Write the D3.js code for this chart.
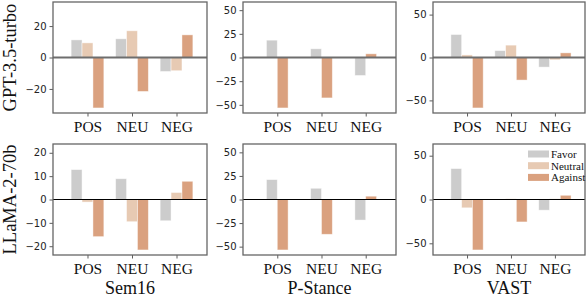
<!DOCTYPE html>
<html><head><meta charset="utf-8">
<script src="https://cdn.jsdelivr.net/npm/d3@7"></script>
<style>body{margin:0;background:#fff}svg{display:block}
.serif{font-family:"Liberation Serif","Times New Roman","DejaVu Serif",serif}
.sans{font-family:"DejaVu Sans",sans-serif}</style>
</head><body>
<script>
// ---- data ----
const categories = ["POS", "NEU", "NEG"];
const seriesNames = ["Favor", "Neutral", "Against"];
const datasets = ["Sem16", "P-Stance", "VAST"];
const models = ["GPT-3.5-turbo", "LLaMA-2-70b"];

// GPT-3.5-turbo
const gptSem16Favor   = [11.2, 11.9, -8.9];
const gptSem16Neutral = [9.3, 17.0, -8.4];
const gptSem16Against = [-32.1, -21.6, 14.4];
const gptPStanceFavor   = [18.3, 9.2, -19.0];
const gptPStanceAgainst = [-53.3, -42.7, 3.9];
const gptVastFavor   = [26.8, 8.0, -11.2];
const gptVastNeutral = [3.0, 14.4, -2.7];
const gptVastAgainst = [-58.8, -26.3, 5.4];
// LLaMA-2-70b
const llamaSem16Favor   = [12.8, 8.9, -9.1];
const llamaSem16Neutral = [-1.1, -9.5, 3.0];
const llamaSem16Against = [-15.9, -21.6, 7.8];
const llamaPStanceFavor   = [21.1, 11.9, -21.8];
const llamaPStanceAgainst = [-53.5, -36.9, 3.5];
const llamaVastFavor   = [35.3, 0, -12.2];
const llamaVastNeutral = [-9.5, 0.8, 0.8];
const llamaVastAgainst = [-57.6, -25.6, 4.8];

const tickSets = [
  [[-20, 0, 20], [-50, -25, 0, 25, 50], [-50, 0, 50]],
  [[-20, -10, 0, 10, 20], [-50, -25, 0, 25, 50], [-50, 0, 50]]
];

const panelData = [
  [
    {Favor: gptSem16Favor, Neutral: gptSem16Neutral, Against: gptSem16Against},
    {Favor: gptPStanceFavor, Against: gptPStanceAgainst},
    {Favor: gptVastFavor, Neutral: gptVastNeutral, Against: gptVastAgainst}
  ],
  [
    {Favor: llamaSem16Favor, Neutral: llamaSem16Neutral, Against: llamaSem16Against},
    {Favor: llamaPStanceFavor, Against: llamaPStanceAgainst},
    {Favor: llamaVastFavor, Neutral: llamaVastNeutral, Against: llamaVastAgainst}
  ]
];

// ---- style / layout ----
const colors = {Favor: "#cccccc", Neutral: "#e7cab3", Against: "#daa17f"};
const W = 586, H = 298;
const colX = [[53, 207], [243, 396], [433, 585]];
const rowY = [[2, 113], [144, 255]];
const barW = 0.245;
const frameColor = "#666";

const svg = d3.select("body").append("svg").attr("width", W).attr("height", H);

panelData.forEach((row, r) => {
  row.forEach((pd, c) => {
    const [x0, x1] = colX[c];
    const [y0, y1] = rowY[r];
    const names = seriesNames.filter(s => pd[s]);
    const maxAbs = d3.max(names.flatMap(s => pd[s].map(Math.abs)));
    const lim = maxAbs * 1.1;
    const x = d3.scaleLinear().domain([-0.775, 2.685]).range([x0, x1]);
    const y = d3.scaleLinear().domain([-lim, lim]).range([y1, y0]);
    const g = svg.append("g");

    // bars
    const n = names.length;
    names.forEach((s, k) => {
      const off = (k - (n - 1) / 2) * barW;
      g.selectAll(null).data(pd[s]).enter().append("rect")
        .attr("x", (d, i) => x(i + off - barW / 2))
        .attr("width", x(barW) - x(0))
        .attr("y", d => y(Math.max(0, d)))
        .attr("height", d => Math.abs(y(d) - y(0)))
        .attr("fill", colors[s])
        .attr("stroke", "#fff").attr("stroke-opacity", 0.55).attr("stroke-width", 0.8);
    });

    // zero line
    g.append("line").attr("x1", x0).attr("x2", x1).attr("y1", y(0)).attr("y2", y(0))
      .attr("stroke", r === 0 ? "#6e6e6e" : "#000").attr("stroke-width", r === 0 ? 2 : 1);

    // y axis
    const ya = g.append("g").attr("transform", `translate(${x0},0)`)
      .call(d3.axisLeft(y).tickValues(tickSets[r][c]).tickSize(3.5).tickPadding(3)
        .tickFormat(d => d < 0 ? "\u2212" + Math.abs(d) : d));
    ya.attr("font-family", null);
    ya.select(".domain").remove();
    ya.selectAll("line").attr("stroke", "#333").attr("stroke-width", 0.8);
    ya.selectAll("text").attr("class", "sans").attr("font-size", 10).attr("fill", "#222");

    // x axis
    const xa = g.append("g").attr("transform", `translate(0,${y1})`)
      .call(d3.axisBottom(x).tickValues([0, 1, 2]).tickSize(3.5).tickPadding(6)
        .tickFormat(i => categories[i]));
    xa.attr("font-family", null);
    xa.select(".domain").remove();
    xa.selectAll("line").attr("stroke", "#333").attr("stroke-width", 0.8);
    xa.selectAll("text").attr("class", "serif").attr("font-size", 15.5).attr("fill", "#111")
      .attr("dy", null).attr("y", 19);

    // frame
    g.append("rect").attr("x", x0).attr("y", y0).attr("width", x1 - x0).attr("height", y1 - y0)
      .attr("fill", "none").attr("stroke", frameColor).attr("stroke-width", 1.3);

    if (r === 1) {
      svg.append("text").attr("class", "serif").attr("x", (x0 + x1) / 2).attr("y", 294)
        .attr("text-anchor", "middle").attr("font-size", 18).attr("fill", "#111").text(datasets[c]);
    }
    if (c === 0) {
      svg.append("text").attr("class", "serif")
        .attr("transform", `translate(16,${(y0 + y1) / 2}) rotate(-90)`)
        .attr("text-anchor", "middle").attr("font-size", 18.5)
        .attr("fill", "#111").text(models[r]);
    }
    if (r === 1 && c === 2) {
      const lg = svg.append("g");
      seriesNames.forEach((s, k) => {
        const cy = 154 + k * 11.7;
        lg.append("rect").attr("x", 528).attr("y", cy - 3.5).attr("width", 21).attr("height", 7)
          .attr("fill", colors[s]);
        lg.append("text").attr("class", "serif").attr("x", 551).attr("y", cy + 3.8)
          .attr("font-size", 11).attr("fill", "#111").text(s);
      });
    }
  });
});
</script>
</body></html>
